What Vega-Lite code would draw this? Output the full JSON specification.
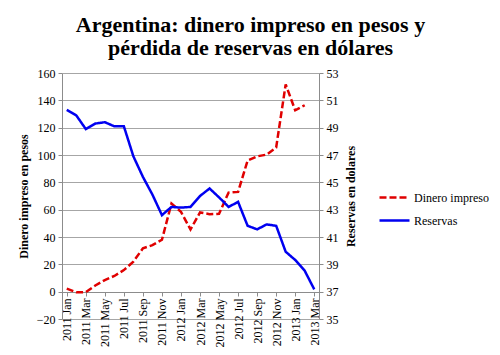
{
  "$schema": "https://vega.github.io/schema/vega-lite/v6.json",
  "autosize": "none",
  "width": 257,
  "height": 246,
  "padding": {"left": 62, "top": 73, "right": 181, "bottom": 36},
  "background": "#ffffff",
  "title": {
    "text": ["Argentina: dinero impreso en pesos y", "pérdida de reservas en dólares"],
    "font": "Liberation Serif",
    "fontSize": 22,
    "fontWeight": "bold",
    "color": "#000000",
    "anchor": "middle",
    "frame": "group",
    "dx": 60,
    "lineHeight": 23,
    "offset": 7
  },
  "data": {
    "values": [
      {"mes": "2011 Jan", "dinero": 2.2, "reservas": 50.3},
      {"mes": "2011 Feb", "dinero": -0.5, "reservas": 49.9},
      {"mes": "2011 Mar", "dinero": -0.3, "reservas": 48.9},
      {"mes": "2011 Apr", "dinero": 4.5, "reservas": 49.3},
      {"mes": "2011 May", "dinero": 8.5, "reservas": 49.4},
      {"mes": "2011 Jun", "dinero": 11.5, "reservas": 49.1},
      {"mes": "2011 Jul", "dinero": 15.8, "reservas": 49.1},
      {"mes": "2011 Aug", "dinero": 22, "reservas": 46.9},
      {"mes": "2011 Sep", "dinero": 31.7, "reservas": 45.4},
      {"mes": "2011 Oct", "dinero": 34, "reservas": 44.1},
      {"mes": "2011 Nov", "dinero": 38, "reservas": 42.6},
      {"mes": "2011 Dec", "dinero": 64.5, "reservas": 43.2},
      {"mes": "2012 Jan", "dinero": 58.4, "reservas": 43.15},
      {"mes": "2012 Feb", "dinero": 45.5, "reservas": 43.2},
      {"mes": "2012 Mar", "dinero": 58, "reservas": 44.0},
      {"mes": "2012 Apr", "dinero": 56.7, "reservas": 44.55},
      {"mes": "2012 May", "dinero": 57, "reservas": 43.9},
      {"mes": "2012 Jun", "dinero": 72.5, "reservas": 43.2},
      {"mes": "2012 Jul", "dinero": 73, "reservas": 43.57},
      {"mes": "2012 Aug", "dinero": 96, "reservas": 41.82},
      {"mes": "2012 Sep", "dinero": 99, "reservas": 41.56},
      {"mes": "2012 Oct", "dinero": 100.3, "reservas": 41.92},
      {"mes": "2012 Nov", "dinero": 105.5, "reservas": 41.82},
      {"mes": "2012 Dec", "dinero": 151.7, "reservas": 39.92},
      {"mes": "2013 Jan", "dinero": 132.7, "reservas": 39.32},
      {"mes": "2013 Feb", "dinero": 136.4, "reservas": 38.53},
      {"mes": "2013 Mar", "dinero": null, "reservas": 37.17}
    ]
  },
  "encoding": {
    "x": {
      "field": "mes",
      "type": "ordinal",
      "sort": null,
      "title": null,
      "axis": {
        "values": ["2011 Jan", "2011 Mar", "2011 May", "2011 Jul", "2011 Sep", "2011 Nov", "2012 Jan", "2012 Mar", "2012 May", "2012 Jul", "2012 Sep", "2012 Nov", "2013 Jan", "2013 Mar"],
        "labelAngle": -90,
        "labelAlign": "right",
        "labelBaseline": "middle",
        "labelPadding": 2,
        "offset": -27,
        "tickSize": 4,
        "grid": false
      }
    }
  },
  "layer": [
    {
      "mark": {"type": "line", "strokeWidth": 2.5, "strokeCap": "butt"},
      "encoding": {
        "y": {
          "field": "dinero",
          "type": "quantitative",
          "scale": {"domain": [-20, 160], "nice": false, "zero": false},
          "axis": {
            "title": "Dinero impreso en pesos",
            "values": [-20, 0, 20, 40, 60, 80, 100, 120, 140, 160],
            "titlePadding": 6,
            "labelPadding": 3,
            "tickSize": 4,
            "grid": true,
            "gridColor": "#a6a6a6",
            "gridWidth": 1
          }
        },
        "color": {
          "datum": "Dinero impreso",
          "type": "nominal",
          "scale": {"domain": ["Dinero impreso", "Reservas"], "range": ["#e00000", "#0000f0"]},
          "legend": {
            "title": null,
            "orient": "none",
            "legendX": 316,
            "legendY": 108,
            "symbolType": "stroke",
            "symbolSize": 900,
            "symbolStrokeWidth": 2.5,
            "rowPadding": -10,
            "labelOffset": 3
          }
        },
        "strokeDash": {
          "datum": "Dinero impreso",
          "type": "nominal",
          "scale": {"domain": ["Dinero impreso", "Reservas"], "range": [[7, 3], [1, 0]]},
          "legend": null
        }
      }
    },
    {
      "mark": {"type": "line", "strokeWidth": 2.5},
      "encoding": {
        "y": {
          "field": "reservas",
          "type": "quantitative",
          "scale": {"domain": [35, 53], "nice": false, "zero": false},
          "axis": {
            "orient": "right",
            "title": "Reservas en dolares",
            "titleAngle": 270,
            "titleBaseline": "bottom",
            "values": [35, 37, 39, 41, 43, 45, 47, 49, 51, 53],
            "titlePadding": 19,
            "labelPadding": 3,
            "tickSize": 4,
            "grid": false
          }
        },
        "color": {"datum": "Reservas", "type": "nominal"},
        "strokeDash": {"datum": "Reservas", "type": "nominal", "legend": null}
      }
    }
  ],
  "resolve": {"scale": {"y": "independent"}},
  "config": {
    "view": {"stroke": null},
    "font": "Liberation Serif",
    "axis": {
      "labelFont": "Liberation Serif",
      "labelFontSize": 12,
      "labelColor": "#000000",
      "titleFont": "Liberation Serif",
      "titleFontSize": 12,
      "titleFontWeight": "bold",
      "titleColor": "#000000",
      "domainColor": "#8c8c8c",
      "tickColor": "#8c8c8c"
    },
    "legend": {
      "labelFont": "Liberation Serif",
      "labelFontSize": 12,
      "labelColor": "#000000"
    }
  }
}
